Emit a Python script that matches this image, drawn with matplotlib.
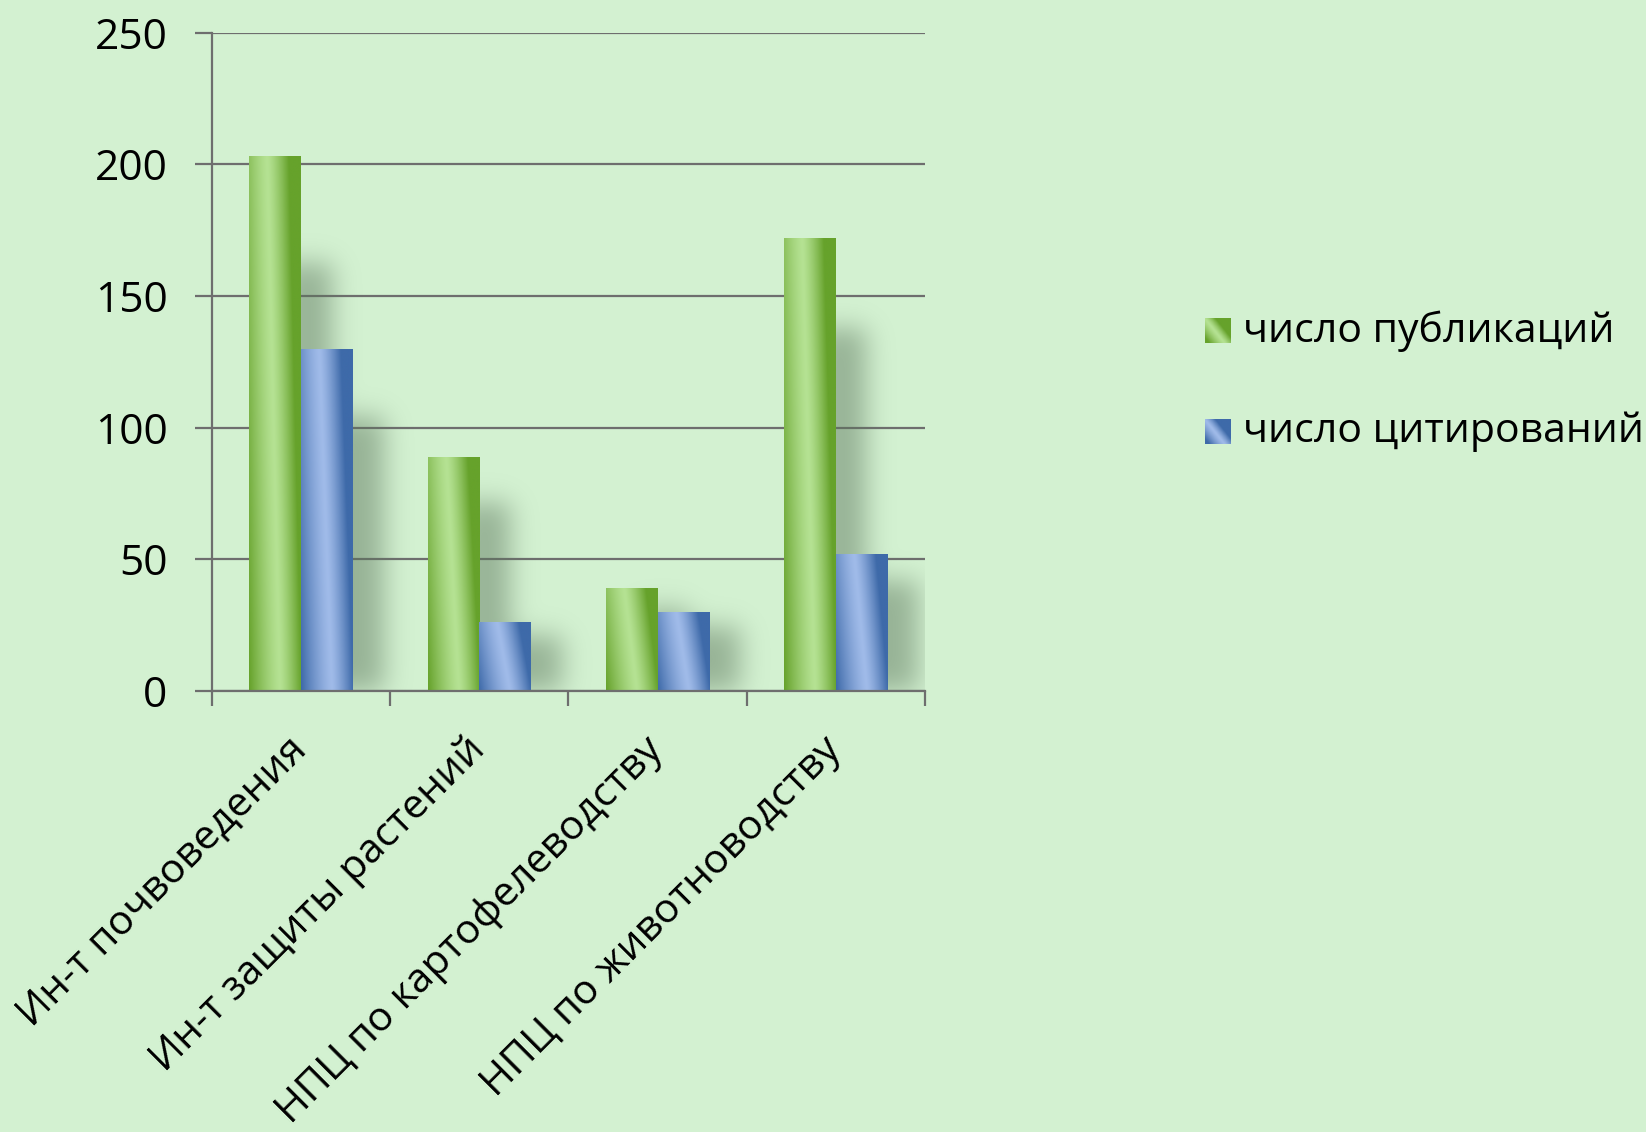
import numpy as np
import matplotlib
matplotlib.use('Agg')
import matplotlib.pyplot as plt
from matplotlib.colors import to_rgb

categories = ['Ин-т почвоведения', 'Ин-т защиты растений',
              'НПЦ по картофелеводству', 'НПЦ по животноводству']
publications = [203, 89, 39, 172]
citations = [130, 26, 30, 52]
series_names = ['число публикаций', 'число цитирований']
yticks = [0, 50, 100, 150, 200, 250]

BG = '#d3f1d1'
GREEN_LIGHT, GREEN_DARK = '#b5e293', '#66a22b'
BLUE_LIGHT, BLUE_DARK = '#a0bbe9', '#3e6aa9'
GRID = '#6e6e6e'
FONT = ['Open Sans', 'DejaVu Sans']
FS_Y = 30.5
FS_X = 29.5
FS_LEG = 29.5

plt.rcParams['font.family'] = FONT


def grad_img(light, dark, nx=64, ny=256, slope=0.25, hi=0.6):
    xs = np.linspace(0, 1, nx)[None, :]
    ys = np.linspace(0, 1, ny)[:, None]
    s = xs + slope * ys - hi
    t = np.where(s >= 0, np.clip(s / 0.42, 0, 1), np.clip(-s / 0.6, 0, 1))
    t = t ** 1.3
    L = np.array(to_rgb(light))
    D = np.array(to_rgb(dark))
    return L * (1 - t[..., None]) + D * t[..., None]


def blur1d(a, sigma, axis):
    r = int(3 * sigma)
    k = np.exp(-0.5 * (np.arange(-r, r + 1) / sigma) ** 2)
    k /= k.sum()
    pad = [(0, 0), (0, 0)]
    pad[axis] = (r, r)
    ap = np.pad(a, pad)
    out = np.zeros_like(a)
    n = a.shape[axis]
    for i, kv in enumerate(k):
        if axis == 0:
            out += kv * ap[i:i + n, :]
        else:
            out += kv * ap[:, i:i + n]
    return out


fig = plt.figure(figsize=(16.46, 11.32), dpi=100, facecolor=BG)
ax = fig.add_axes([0.12883, 0.38961, 0.43303, 0.58163])
ax.set_facecolor(BG)

n = len(categories)
x = np.arange(n)
w = 0.29
XMIN, XMAX, YMIN, YMAX = -0.5, n - 0.5, 0, 250

# soft shadows
NX, NY = 713, 658
gx = np.linspace(XMIN, XMAX, NX)[None, :]
gy = np.linspace(YMIN, YMAX, NY)[:, None]
mask = np.zeros((NY, NX))
for vals, off in ((publications, -w / 2), (citations, w / 2)):
    for xi, v in zip(x, vals):
        x0 = xi + off - w / 2 + 0.6 * w
        x1 = xi + off + w / 2 + 0.6 * w
        top = v * 0.8
        m = ((gx >= x0) & (gx <= x1) & (gy <= top)).astype(float)
        mask = np.maximum(mask, m)
mask = blur1d(mask, 13, 0)
mask = blur1d(mask, 13, 1)
shadow = np.zeros((NY, NX, 4))
shadow[..., :3] = (0.36, 0.46, 0.36)
shadow[..., 3] = 0.5 * mask
ax.imshow(shadow, extent=(XMIN, XMAX, YMIN, YMAX), origin='lower',
          aspect='auto', zorder=2, interpolation='bilinear')

# bars with gradient fill
for vals, off, (lc, dc) in ((publications, -w / 2, (GREEN_LIGHT, GREEN_DARK)),
                            (citations, w / 2, (BLUE_LIGHT, BLUE_DARK))):
    bars = ax.bar(x + off, vals, w, color='none', edgecolor='none', zorder=3)
    img = grad_img(lc, dc)
    for rect in bars:
        x0 = rect.get_x()
        h = rect.get_height()
        im = ax.imshow(img, extent=(x0, x0 + w, 0, h), origin='lower',
                       aspect='auto', zorder=3, interpolation='bilinear')
        im.set_clip_path(rect)

ax.set_xlim(XMIN, XMAX)
ax.set_ylim(YMIN, YMAX)
ax.set_aspect('auto')

# grid and axes
ax.set_yticks(yticks)
ax.set_yticklabels([str(t) for t in yticks], fontsize=FS_Y)
ax.yaxis.grid(True, color=GRID, lw=1.6, zorder=1)
ax.set_axisbelow(True)
for s in ('top', 'right'):
    ax.spines[s].set_visible(False)
for s in ('left', 'bottom'):
    ax.spines[s].set_color(GRID)
    ax.spines[s].set_linewidth(1.6)
    ax.spines[s].set_zorder(4)
ax.tick_params(axis='y', length=12, width=1.6, color=GRID, pad=20)

ax.set_xticks(np.arange(n + 1) - 0.5)
ax.set_xticklabels([])
ax.tick_params(axis='x', which='major', length=10.5, width=1.6, color=GRID)
ax.set_xticks(x, minor=True)
ax.set_xticklabels(categories, minor=True, rotation=45, ha='right',
                   va='center', rotation_mode='anchor', fontsize=FS_X)
ax.tick_params(axis='x', which='minor', length=0, pad=38)

# legend (manual, gradient swatches)
leg = [(0.6967, 0.7078, GREEN_LIGHT, GREEN_DARK),
       (0.6076, 0.6187, BLUE_LIGHT, BLUE_DARK)]
for (yb, yc, lc, dc), name in zip(leg, series_names):
    sax = fig.add_axes([0.7321, yb, 0.0153, 0.0223])
    sax.imshow(grad_img(lc, dc, 32, 32, slope=0.8, hi=0.75)[::-1, :],
               origin='upper', aspect='auto', interpolation='bilinear')
    sax.set_axis_off()
    fig.text(0.7551, yc, name, fontsize=FS_LEG, va='center', ha='left',
             family=FONT)

fig.savefig('out.png', dpi=100, facecolor=BG)
